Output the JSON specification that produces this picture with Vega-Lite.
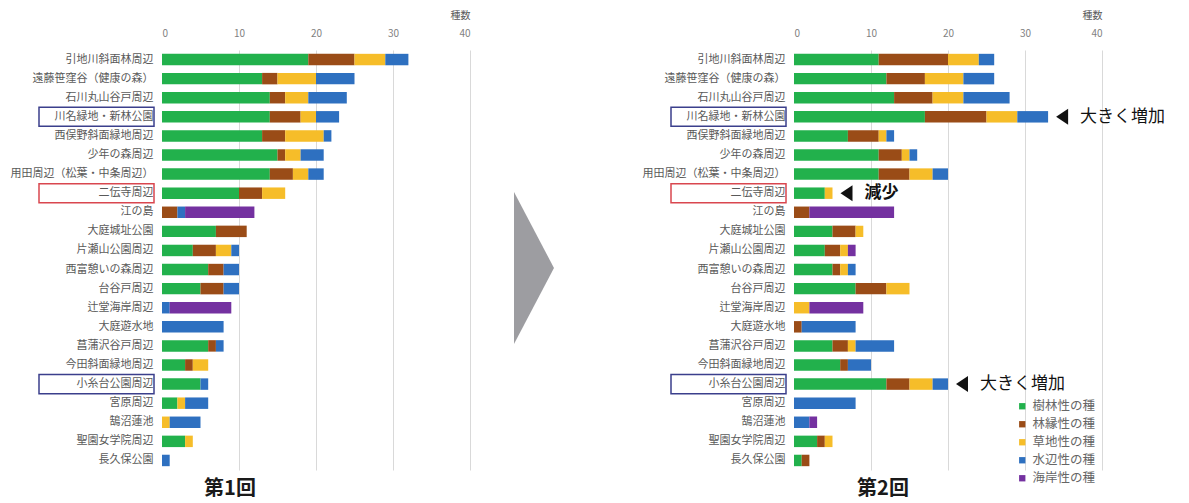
{
  "$schema": "https://vega.github.io/schema/vega-lite/v6.json",
  "padding": {"left": 10, "top": 10, "right": 5, "bottom": 6},
  "background": "white",
  "config": {
    "view": {"stroke": null},
    "font": "Noto Sans CJK JP",
    "axis": {"labelFont": "Noto Sans CJK JP", "titleFont": "Noto Sans CJK JP"},
    "legend": {"labelFont": "Noto Sans CJK JP"}
  },
  "datasets": {
    "counts": [
      {"round": 1, "site": "引地川斜面林周辺", "樹林性の種": 19, "林縁性の種": 6, "草地性の種": 4, "水辺性の種": 3, "海岸性の種": 0},
      {"round": 1, "site": "遠藤笹窪谷（健康の森）", "樹林性の種": 13, "林縁性の種": 2, "草地性の種": 5, "水辺性の種": 5, "海岸性の種": 0},
      {"round": 1, "site": "石川丸山谷戸周辺", "樹林性の種": 14, "林縁性の種": 2, "草地性の種": 3, "水辺性の種": 5, "海岸性の種": 0},
      {"round": 1, "site": "川名緑地・新林公園", "樹林性の種": 14, "林縁性の種": 4, "草地性の種": 2, "水辺性の種": 3, "海岸性の種": 0},
      {"round": 1, "site": "西俣野斜面緑地周辺", "樹林性の種": 13, "林縁性の種": 3, "草地性の種": 5, "水辺性の種": 1, "海岸性の種": 0},
      {"round": 1, "site": "少年の森周辺", "樹林性の種": 15, "林縁性の種": 1, "草地性の種": 2, "水辺性の種": 3, "海岸性の種": 0},
      {"round": 1, "site": "用田周辺（松葉・中条周辺）", "樹林性の種": 14, "林縁性の種": 3, "草地性の種": 2, "水辺性の種": 2, "海岸性の種": 0},
      {"round": 1, "site": "二伝寺周辺", "樹林性の種": 10, "林縁性の種": 3, "草地性の種": 3, "水辺性の種": 0, "海岸性の種": 0},
      {"round": 1, "site": "江の島", "樹林性の種": 0, "林縁性の種": 2, "草地性の種": 0, "水辺性の種": 1, "海岸性の種": 9},
      {"round": 1, "site": "大庭城址公園", "樹林性の種": 7, "林縁性の種": 4, "草地性の種": 0, "水辺性の種": 0, "海岸性の種": 0},
      {"round": 1, "site": "片瀬山公園周辺", "樹林性の種": 4, "林縁性の種": 3, "草地性の種": 2, "水辺性の種": 1, "海岸性の種": 0},
      {"round": 1, "site": "西富憩いの森周辺", "樹林性の種": 6, "林縁性の種": 2, "草地性の種": 0, "水辺性の種": 2, "海岸性の種": 0},
      {"round": 1, "site": "台谷戸周辺", "樹林性の種": 5, "林縁性の種": 3, "草地性の種": 0, "水辺性の種": 2, "海岸性の種": 0},
      {"round": 1, "site": "辻堂海岸周辺", "樹林性の種": 0, "林縁性の種": 0, "草地性の種": 0, "水辺性の種": 1, "海岸性の種": 8},
      {"round": 1, "site": "大庭遊水地", "樹林性の種": 0, "林縁性の種": 0, "草地性の種": 0, "水辺性の種": 8, "海岸性の種": 0},
      {"round": 1, "site": "菖蒲沢谷戸周辺", "樹林性の種": 6, "林縁性の種": 1, "草地性の種": 0, "水辺性の種": 1, "海岸性の種": 0},
      {"round": 1, "site": "今田斜面緑地周辺", "樹林性の種": 3, "林縁性の種": 1, "草地性の種": 2, "水辺性の種": 0, "海岸性の種": 0},
      {"round": 1, "site": "小糸台公園周辺", "樹林性の種": 5, "林縁性の種": 0, "草地性の種": 0, "水辺性の種": 1, "海岸性の種": 0},
      {"round": 1, "site": "宮原周辺", "樹林性の種": 2, "林縁性の種": 0, "草地性の種": 1, "水辺性の種": 3, "海岸性の種": 0},
      {"round": 1, "site": "鵠沼蓮池", "樹林性の種": 0, "林縁性の種": 0, "草地性の種": 1, "水辺性の種": 4, "海岸性の種": 0},
      {"round": 1, "site": "聖園女学院周辺", "樹林性の種": 3, "林縁性の種": 0, "草地性の種": 1, "水辺性の種": 0, "海岸性の種": 0},
      {"round": 1, "site": "長久保公園", "樹林性の種": 0, "林縁性の種": 0, "草地性の種": 0, "水辺性の種": 1, "海岸性の種": 0},
      {"round": 2, "site": "引地川斜面林周辺", "樹林性の種": 11, "林縁性の種": 9, "草地性の種": 4, "水辺性の種": 2, "海岸性の種": 0},
      {"round": 2, "site": "遠藤笹窪谷（健康の森）", "樹林性の種": 12, "林縁性の種": 5, "草地性の種": 5, "水辺性の種": 4, "海岸性の種": 0},
      {"round": 2, "site": "石川丸山谷戸周辺", "樹林性の種": 13, "林縁性の種": 5, "草地性の種": 4, "水辺性の種": 6, "海岸性の種": 0},
      {"round": 2, "site": "川名緑地・新林公園", "樹林性の種": 17, "林縁性の種": 8, "草地性の種": 4, "水辺性の種": 4, "海岸性の種": 0},
      {"round": 2, "site": "西俣野斜面緑地周辺", "樹林性の種": 7, "林縁性の種": 4, "草地性の種": 1, "水辺性の種": 1, "海岸性の種": 0},
      {"round": 2, "site": "少年の森周辺", "樹林性の種": 11, "林縁性の種": 3, "草地性の種": 1, "水辺性の種": 1, "海岸性の種": 0},
      {"round": 2, "site": "用田周辺（松葉・中条周辺）", "樹林性の種": 11, "林縁性の種": 4, "草地性の種": 3, "水辺性の種": 2, "海岸性の種": 0},
      {"round": 2, "site": "二伝寺周辺", "樹林性の種": 4, "林縁性の種": 0, "草地性の種": 1, "水辺性の種": 0, "海岸性の種": 0},
      {"round": 2, "site": "江の島", "樹林性の種": 0, "林縁性の種": 2, "草地性の種": 0, "水辺性の種": 0, "海岸性の種": 11},
      {"round": 2, "site": "大庭城址公園", "樹林性の種": 5, "林縁性の種": 3, "草地性の種": 1, "水辺性の種": 0, "海岸性の種": 0},
      {"round": 2, "site": "片瀬山公園周辺", "樹林性の種": 4, "林縁性の種": 2, "草地性の種": 1, "水辺性の種": 0, "海岸性の種": 1},
      {"round": 2, "site": "西富憩いの森周辺", "樹林性の種": 5, "林縁性の種": 1, "草地性の種": 1, "水辺性の種": 1, "海岸性の種": 0},
      {"round": 2, "site": "台谷戸周辺", "樹林性の種": 8, "林縁性の種": 4, "草地性の種": 3, "水辺性の種": 0, "海岸性の種": 0},
      {"round": 2, "site": "辻堂海岸周辺", "樹林性の種": 0, "林縁性の種": 0, "草地性の種": 2, "水辺性の種": 0, "海岸性の種": 7},
      {"round": 2, "site": "大庭遊水地", "樹林性の種": 0, "林縁性の種": 1, "草地性の種": 0, "水辺性の種": 7, "海岸性の種": 0},
      {"round": 2, "site": "菖蒲沢谷戸周辺", "樹林性の種": 5, "林縁性の種": 2, "草地性の種": 1, "水辺性の種": 5, "海岸性の種": 0},
      {"round": 2, "site": "今田斜面緑地周辺", "樹林性の種": 6, "林縁性の種": 1, "草地性の種": 0, "水辺性の種": 3, "海岸性の種": 0},
      {"round": 2, "site": "小糸台公園周辺", "樹林性の種": 12, "林縁性の種": 3, "草地性の種": 3, "水辺性の種": 2, "海岸性の種": 0},
      {"round": 2, "site": "宮原周辺", "樹林性の種": 0, "林縁性の種": 0, "草地性の種": 0, "水辺性の種": 8, "海岸性の種": 0},
      {"round": 2, "site": "鵠沼蓮池", "樹林性の種": 0, "林縁性の種": 0, "草地性の種": 0, "水辺性の種": 2, "海岸性の種": 1},
      {"round": 2, "site": "聖園女学院周辺", "樹林性の種": 3, "林縁性の種": 1, "草地性の種": 1, "水辺性の種": 0, "海岸性の種": 0},
      {"round": 2, "site": "長久保公園", "樹林性の種": 1, "林縁性の種": 1, "草地性の種": 0, "水辺性の種": 0, "海岸性の種": 0}
    ],
    "categories": [
      {"category": "樹林性の種", "rank": 1},
      {"category": "林縁性の種", "rank": 2},
      {"category": "草地性の種", "rank": 3},
      {"category": "水辺性の種", "rank": 4},
      {"category": "海岸性の種", "rank": 5}
    ],
    "highlights": [
      {"site": "川名緑地・新林公園", "change": "増加", "note": "大きく増加"},
      {"site": "二伝寺周辺", "change": "減少", "note": "減少"},
      {"site": "小糸台公園周辺", "change": "増加", "note": "大きく増加"}
    ],
    "arrow": [{"shape": "次へ"}]
  },
  "bounds": "flush",
  "spacing": 20,
  "resolve": {"scale": {"color": "independent", "stroke": "independent", "x": "independent", "y": "independent"}, "legend": {"color": "independent"}},
  "hconcat": [
    {
      "width": 308,
      "height": 420,
      "title": {"text": "第1回", "orient": "bottom", "frame": "group", "anchor": "middle", "dx": -86, "offset": 9, "fontSize": 20, "fontWeight": "bold", "color": "#1a1a1a", "font": "Noto Sans CJK JP"},
      "layer": [
        {
          "data": {"name": "counts"},
          "transform": [
            {"filter": "datum.round === 1"},
            {"fold": ["樹林性の種", "林縁性の種", "草地性の種", "水辺性の種", "海岸性の種"], "as": ["category", "count"]},
            {"lookup": "category", "from": {"data": {"name": "categories"}, "key": "category", "fields": ["rank"]}}
          ],
          "mark": {"type": "bar", "height": {"band": 0.6}},
          "encoding": {
            "y": {
              "field": "site", "type": "nominal",
              "sort": ["引地川斜面林周辺", "遠藤笹窪谷（健康の森）", "石川丸山谷戸周辺", "川名緑地・新林公園", "西俣野斜面緑地周辺", "少年の森周辺", "用田周辺（松葉・中条周辺）", "二伝寺周辺", "江の島", "大庭城址公園", "片瀬山公園周辺", "西富憩いの森周辺", "台谷戸周辺", "辻堂海岸周辺", "大庭遊水地", "菖蒲沢谷戸周辺", "今田斜面緑地周辺", "小糸台公園周辺", "宮原周辺", "鵠沼蓮池", "聖園女学院周辺", "長久保公園"],
              "scale": {"paddingInner": 0, "paddingOuter": 0},
              "axis": {"title": null, "domain": false, "ticks": false, "tickSize": 0, "labelPadding": 9, "labelFontSize": 11, "labelColor": "#595959", "labelLimit": 300}
            },
            "x": {
              "field": "count", "type": "quantitative", "stack": "zero",
              "scale": {"domain": [0, 40], "nice": false},
              "axis": {"orient": "top", "values": [0, 10, 20, 30, 40], "grid": true, "gridColor": "#d9d9d9",
                "gridOpacity": {"condition": {"test": "datum.value === 0", "value": 0}, "value": 1},
                "domain": false, "ticks": false, "tickSize": 0, "labelPadding": 12, "labelFontSize": 10, "labelColor": "#7f7f7f",
                "title": "種数", "titleFontSize": 10, "titleFontWeight": "normal", "titleColor": "#595959",
                "titleX": 298, "titleY": -35, "titleAlign": "center", "titleBaseline": "middle", "titleAnchor": null}
            },
            "order": {"field": "rank", "type": "quantitative", "sort": "ascending"},
            "color": {
              "field": "category", "type": "nominal",
              "scale": {"domain": ["樹林性の種", "林縁性の種", "草地性の種", "水辺性の種", "海岸性の種"], "range": ["#22b14c", "#9a4c17", "#f6bd29", "#2e70c0", "#7431a0"]},
              "legend": null
            }
          }
        },
        {
          "data": {"name": "highlights"},
          "mark": {"type": "rect", "filled": false, "strokeWidth": 1.5},
          "encoding": {
            "y": {"field": "site", "type": "nominal",
              "sort": ["引地川斜面林周辺", "遠藤笹窪谷（健康の森）", "石川丸山谷戸周辺", "川名緑地・新林公園", "西俣野斜面緑地周辺", "少年の森周辺", "用田周辺（松葉・中条周辺）", "二伝寺周辺", "江の島", "大庭城址公園", "片瀬山公園周辺", "西富憩いの森周辺", "台谷戸周辺", "辻堂海岸周辺", "大庭遊水地", "菖蒲沢谷戸周辺", "今田斜面緑地周辺", "小糸台公園周辺", "宮原周辺", "鵠沼蓮池", "聖園女学院周辺", "長久保公園"]},
            "x": {"value": -123},
            "x2": {"value": -8},
            "stroke": {"field": "change", "type": "nominal", "scale": {"domain": ["増加", "減少"], "range": ["#3b3f8c", "#d9474f"]}, "legend": null}
          }
        }
      ]
    },
    {
      "width": 284,
      "height": 420,
      "data": {"name": "arrow"},
      "mark": {"type": "point", "shape": "M-0.263,-1L0.263,0L-0.263,1Z", "size": 23104, "filled": true, "fill": "#9d9da1", "opacity": 1, "strokeWidth": 0, "xOffset": -98, "yOffset": 8},
      "encoding": {}
    },
    {
      "width": 308,
      "height": 420,
      "title": {"text": "第2回", "orient": "bottom", "frame": "group", "anchor": "middle", "dx": -65, "dy": -8, "offset": 2, "fontSize": 20, "fontWeight": "bold", "color": "#1a1a1a", "font": "Noto Sans CJK JP"},
      "layer": [
        {
          "data": {"name": "counts"},
          "transform": [
            {"filter": "datum.round === 2"},
            {"fold": ["樹林性の種", "林縁性の種", "草地性の種", "水辺性の種", "海岸性の種"], "as": ["category", "count"]},
            {"lookup": "category", "from": {"data": {"name": "categories"}, "key": "category", "fields": ["rank"]}}
          ],
          "mark": {"type": "bar", "height": {"band": 0.6}},
          "encoding": {
            "y": {
              "field": "site", "type": "nominal",
              "sort": ["引地川斜面林周辺", "遠藤笹窪谷（健康の森）", "石川丸山谷戸周辺", "川名緑地・新林公園", "西俣野斜面緑地周辺", "少年の森周辺", "用田周辺（松葉・中条周辺）", "二伝寺周辺", "江の島", "大庭城址公園", "片瀬山公園周辺", "西富憩いの森周辺", "台谷戸周辺", "辻堂海岸周辺", "大庭遊水地", "菖蒲沢谷戸周辺", "今田斜面緑地周辺", "小糸台公園周辺", "宮原周辺", "鵠沼蓮池", "聖園女学院周辺", "長久保公園"],
              "scale": {"paddingInner": 0, "paddingOuter": 0},
              "axis": {"title": null, "domain": false, "ticks": false, "tickSize": 0, "labelPadding": 9, "labelFontSize": 11, "labelColor": "#595959", "labelLimit": 300}
            },
            "x": {
              "field": "count", "type": "quantitative", "stack": "zero",
              "scale": {"domain": [0, 40], "nice": false},
              "axis": {"orient": "top", "values": [0, 10, 20, 30, 40], "grid": true, "gridColor": "#d9d9d9",
                "gridOpacity": {"condition": {"test": "datum.value === 0", "value": 0}, "value": 1},
                "domain": false, "ticks": false, "tickSize": 0, "labelPadding": 12, "labelFontSize": 10, "labelColor": "#7f7f7f",
                "title": "種数", "titleFontSize": 10, "titleFontWeight": "normal", "titleColor": "#595959",
                "titleX": 298, "titleY": -35, "titleAlign": "center", "titleBaseline": "middle", "titleAnchor": null}
            },
            "order": {"field": "rank", "type": "quantitative", "sort": "ascending"},
            "color": {
              "field": "category", "type": "nominal",
              "scale": {"domain": ["樹林性の種", "林縁性の種", "草地性の種", "水辺性の種", "海岸性の種"], "range": ["#22b14c", "#9a4c17", "#f6bd29", "#2e70c0", "#7431a0"]},
              "legend": {"orient": "none", "legendX": 222, "legendY": 350, "title": null, "symbolType": "square", "symbolSize": 40, "symbolStrokeWidth": 0, "labelFontSize": 12.5, "labelColor": "#666666", "rowPadding": 5, "padding": 0, "labelOffset": 4}
            }
          }
        },
        {
          "data": {"name": "highlights"},
          "mark": {"type": "rect", "filled": false, "strokeWidth": 1.5},
          "encoding": {
            "y": {"field": "site", "type": "nominal",
              "sort": ["引地川斜面林周辺", "遠藤笹窪谷（健康の森）", "石川丸山谷戸周辺", "川名緑地・新林公園", "西俣野斜面緑地周辺", "少年の森周辺", "用田周辺（松葉・中条周辺）", "二伝寺周辺", "江の島", "大庭城址公園", "片瀬山公園周辺", "西富憩いの森周辺", "台谷戸周辺", "辻堂海岸周辺", "大庭遊水地", "菖蒲沢谷戸周辺", "今田斜面緑地周辺", "小糸台公園周辺", "宮原周辺", "鵠沼蓮池", "聖園女学院周辺", "長久保公園"]},
            "x": {"value": -123},
            "x2": {"value": -8},
            "stroke": {"field": "change", "type": "nominal", "scale": {"domain": ["増加", "減少"], "range": ["#3b3f8c", "#d9474f"]}, "legend": null}
          }
        },
        {
          "data": {"name": "counts"},
          "transform": [
            {"filter": "datum.round === 2"},
            {"fold": ["樹林性の種", "林縁性の種", "草地性の種", "水辺性の種", "海岸性の種"], "as": ["category", "count"]},
            {"aggregate": [{"op": "sum", "field": "count", "as": "total"}], "groupby": ["site"]},
            {"lookup": "site", "from": {"data": {"name": "highlights"}, "key": "site", "fields": ["note"]}},
            {"filter": "datum.note != null"}
          ],
          "encoding": {
            "y": {"field": "site", "type": "nominal",
              "sort": ["引地川斜面林周辺", "遠藤笹窪谷（健康の森）", "石川丸山谷戸周辺", "川名緑地・新林公園", "西俣野斜面緑地周辺", "少年の森周辺", "用田周辺（松葉・中条周辺）", "二伝寺周辺", "江の島", "大庭城址公園", "片瀬山公園周辺", "西富憩いの森周辺", "台谷戸周辺", "辻堂海岸周辺", "大庭遊水地", "菖蒲沢谷戸周辺", "今田斜面緑地周辺", "小糸台公園周辺", "宮原周辺", "鵠沼蓮池", "聖園女学院周辺", "長久保公園"]},
            "x": {"field": "total", "type": "quantitative"}
          },
          "layer": [
            {"mark": {"type": "point", "shape": "M0.75,-1L-0.75,0L0.75,1Z", "size": 256, "filled": true, "fill": "#111111", "opacity": 1, "strokeWidth": 0, "xOffset": 14}},
            {"transform": [{"filter": "datum.note === '大きく増加'"}], "mark": {"type": "text", "align": "left", "baseline": "middle", "dx": 32, "fontSize": 17, "color": "#111111"}, "encoding": {"text": {"field": "note"}}},
            {"transform": [{"filter": "datum.note === '減少'"}], "mark": {"type": "text", "align": "left", "baseline": "middle", "dx": 32, "fontSize": 17, "fontWeight": "bold", "color": "#111111"}, "encoding": {"text": {"field": "note"}}}
          ]
        }
      ]
    }
  ]
}
